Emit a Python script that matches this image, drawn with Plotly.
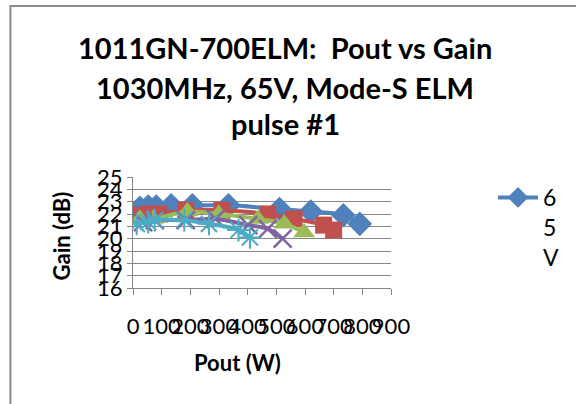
import plotly.graph_objects as go

# Data (Pout in W, Gain in dB)
pout_s1 = [24, 53, 81, 133, 207, 333, 511, 620, 734, 791]
gain_s1 = [22.5, 22.6, 22.6, 22.7, 22.7, 22.7, 22.4, 22.2, 21.9, 21.2]

pout_s2 = [13, 58, 93, 184, 310, 470, 562, 665, 700]
gain_s2 = [21.9, 22.0, 22.0, 22.3, 22.3, 22.0, 21.6, 21.1, 20.7]

pout_s3 = [24, 70, 190, 299, 436, 528, 597]
gain_s3 = [21.6, 21.6, 22.2, 22.0, 21.6, 21.2, 20.5]

pout_s4 = [35, 76, 184, 288, 402, 470, 522]
gain_s4 = [21.35, 21.5, 21.5, 21.6, 21.1, 20.8, 20.0]

pout_s5 = [13, 53, 76, 179, 265, 368, 408]
gain_s5 = [21.2, 21.35, 21.5, 21.5, 21.2, 20.7, 20.1]

legend_name = "6<br>5<br>V"
title_lines = ["1011GN-700ELM:  Pout vs Gain", "1030MHz, 65V, Mode-S ELM", "pulse #1"]
x_title = "Pout (W)"
y_title = "Gain (dB)"

FONT = "Lato"
W, H = 576, 404
L, R, T, B = 133, 180, 177, 116
pw, ph = W - L - R, H - T - B

def px2x(px):
    return (px - L) / pw

def py2y(py):
    return (H - B - py) / ph

fig = go.Figure()

fig.add_trace(go.Scatter(x=pout_s1, y=gain_s1, mode="lines+markers", name=legend_name,
                         line=dict(color="#4F81BD", width=4, shape="spline"),
                         marker=dict(symbol="diamond", size=19, color="#4F81BD")))
fig.add_trace(go.Scatter(x=pout_s2, y=gain_s2, mode="lines+markers", showlegend=False,
                         line=dict(color="#C0504D", width=4, shape="spline"),
                         marker=dict(symbol="square", size=17, color="#C0504D")))
fig.add_trace(go.Scatter(x=pout_s3, y=gain_s3, mode="lines+markers", showlegend=False,
                         line=dict(color="#9BBB59", width=4, shape="spline"),
                         marker=dict(symbol="triangle-up", size=19, color="#9BBB59")))
fig.add_trace(go.Scatter(x=pout_s4, y=gain_s4, mode="lines+markers", showlegend=False,
                         line=dict(color="#8064A2", width=4, shape="spline"),
                         marker=dict(symbol="x-thin-open", size=18, color="#8064A2",
                                     line=dict(color="#8064A2", width=2.5))))
fig.add_trace(go.Scatter(x=pout_s5, y=gain_s5, mode="lines+markers", showlegend=False,
                         line=dict(color="#4BACC6", width=4, shape="spline"),
                         marker=dict(symbol="asterisk-open", size=19, color="#4BACC6",
                                     line=dict(color="#4BACC6", width=2))))

annotations = []
for txt, py in zip(title_lines, [47, 87, 123]):
    annotations.append(dict(text="<b>" + txt + "</b>", x=px2x(288), y=py2y(py), xref="paper", yref="paper",
                            showarrow=False, xanchor="center", yanchor="middle",
                            font=dict(family=FONT, size=29, color="#000000")))
annotations.append(dict(text="<b>" + x_title + "</b>", x=px2x(240), y=py2y(362), xref="paper", yref="paper",
                        showarrow=False, xanchor="center", yanchor="middle",
                        font=dict(family=FONT, size=22, color="#000000")))
annotations.append(dict(text="<b>" + y_title + "</b>", x=px2x(60), y=py2y(236), xref="paper", yref="paper",
                        showarrow=False, xanchor="center", yanchor="middle", textangle=-90,
                        font=dict(family=FONT, size=22, color="#000000")))

fig.update_layout(
    width=W, height=H,
    margin=dict(l=L, r=R, t=T, b=B),
    paper_bgcolor="white", plot_bgcolor="white",
    font=dict(family=FONT, size=22, color="#000000"),
    annotations=annotations,
    legend=dict(x=px2x(500), y=py2y(176), xanchor="left", yanchor="top", valign="top",
                font=dict(family=FONT, size=23), bgcolor="rgba(0,0,0,0)", itemwidth=40,
                borderwidth=0),
    shapes=[dict(type="rect", xref="paper", yref="paper",
                 x0=px2x(8), x1=px2x(590), y0=py2y(420), y1=py2y(6),
                 line=dict(color="#8c8c8c", width=2), layer="below")],
    xaxis=dict(range=[0, 900], dtick=100, tick0=0, showgrid=False, zeroline=False,
               showline=True, linecolor="#868686", linewidth=1,
               ticks="outside", ticklen=6, tickcolor="#868686",
               tickangle=0, ticklabelstandoff=13,
               tickfont=dict(family=FONT, size=22)),
    yaxis=dict(range=[16, 25], dtick=1, tick0=16, showgrid=True, gridcolor="#868686", gridwidth=1,
               zeroline=False, showline=True, linecolor="#868686", linewidth=1,
               ticks="outside", ticklen=5, tickcolor="#868686",
               tickfont=dict(family=FONT, size=22)),
)

fig.write_html("out.html")
